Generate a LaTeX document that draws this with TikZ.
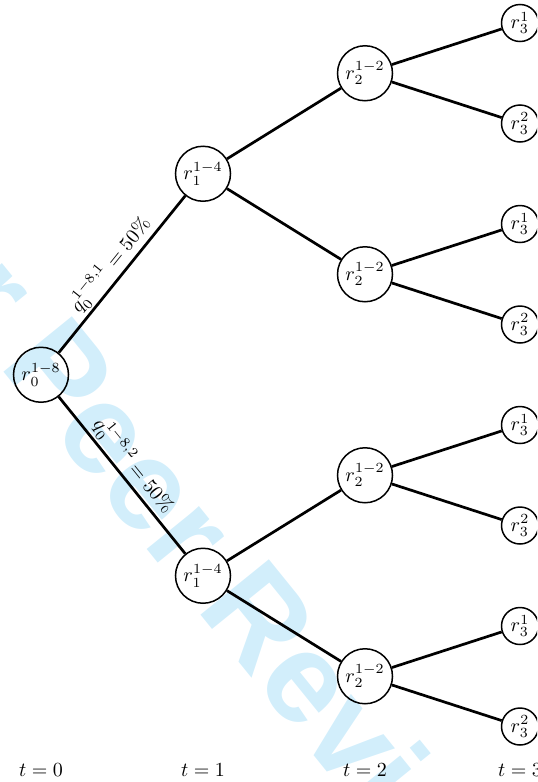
\documentclass[tikz,border=0pt]{standalone}
\usepackage{fontspec}
\newfontfamily\wmfont{Liberation Sans}
\definecolor{wmblue}{RGB}{210,238,251}
\tikzset{
  innernode/.style={circle, draw, line width=0.75pt, minimum size=27.5pt, inner sep=0pt},
  leafnode/.style={circle, draw, line width=0.75pt, minimum size=18.5pt, inner sep=0pt},
  link/.style={line width=1.35pt},
  lbl/.style={above, sloped, inner sep=1pt, pos=0.5},
  wm/.style={text=wmblue, font=\wmfont\bfseries\fontsize{64}{64}\selectfont, rotate=-51, inner sep=0pt}
}
\begin{document}
\begin{tikzpicture}[x=0.5pt,y=-0.5pt]
\useasboundingbox (0,0) rectangle (537,782);
\clip (0,0) rectangle (537,782);
\node[wm] (wmark) at (195,536) {For Peer Review};
% nodes
\node[innernode] (r0) at (41,374.75) {$r_0^{1-8}$};
\node[innernode] (r1a) at (203,173.75) {$r_1^{1-4}$};
\node[innernode] (r1b) at (203,575.75) {$r_1^{1-4}$};
\node[innernode] (r2a) at (365,73.25) {$r_2^{1-2}$};
\node[innernode] (r2b) at (365,274.25) {$r_2^{1-2}$};
\node[innernode] (r2c) at (365,475.25) {$r_2^{1-2}$};
\node[innernode] (r2d) at (365,676.25) {$r_2^{1-2}$};
\node[leafnode] (r3a) at (520,23) {$r_3^1$};
\node[leafnode] (r3b) at (520,123.5) {$r_3^2$};
\node[leafnode] (r3c) at (520,224) {$r_3^1$};
\node[leafnode] (r3d) at (520,324.5) {$r_3^2$};
\node[leafnode] (r3e) at (520,425) {$r_3^1$};
\node[leafnode] (r3f) at (520,525.5) {$r_3^2$};
\node[leafnode] (r3g) at (520,626) {$r_3^1$};
\node[leafnode] (r3h) at (520,726.5) {$r_3^2$};
% edges
\draw[link] (r0) -- node[lbl]{$q_0^{1-8,1} = 50\%$} (r1a);
\draw[link] (r0) -- node[lbl]{$q_0^{1-8,2} = 50\%$} (r1b);
\draw[link] (r1a) -- (r2a);
\draw[link] (r1a) -- (r2b);
\draw[link] (r1b) -- (r2c);
\draw[link] (r1b) -- (r2d);
\draw[link] (r2a) -- (r3a);
\draw[link] (r2a) -- (r3b);
\draw[link] (r2b) -- (r3c);
\draw[link] (r2b) -- (r3d);
\draw[link] (r2c) -- (r3e);
\draw[link] (r2c) -- (r3f);
\draw[link] (r2d) -- (r3g);
\draw[link] (r2d) -- (r3h);
% time labels
\node (t0) at (41,770) {$t=0$};
\node (t1) at (203,770) {$t=1$};
\node (t2) at (365,770) {$t=2$};
\node (t3) at (520,770) {$t=3$};
\end{tikzpicture}
\end{document}
